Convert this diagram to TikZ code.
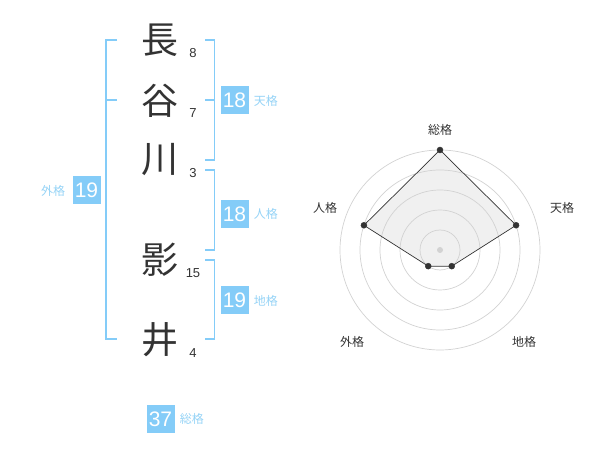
\documentclass[tikz,border=0pt]{standalone}
\usepackage{fontspec}
\setmainfont{Liberation Sans}
\newfontfamily\jpfont{Noto Sans CJK JP}
\usepackage{xcolor}
\usetikzlibrary{calc}
\definecolor{kakublue}{HTML}{84CCF8}
\definecolor{kakutext}{HTML}{95D3F6}
\definecolor{inkgray}{HTML}{333333}
\definecolor{ringgray}{HTML}{D2D2D2}
\definecolor{polyfill}{HTML}{F0F0F0}

\begin{document}
\begin{tikzpicture}[x=1pt, y=-1pt,
    kanji/.style={text=inkgray, font=\jpfont\fontsize{37}{37}\selectfont, inner sep=0pt},
    strokes/.style={text=inkgray, font=\fontsize{13}{13}\selectfont, inner sep=0pt},
    bracket/.style={line width=1.7pt, kakublue},
    kakubox/.style={fill=kakublue, text=white, minimum size=28pt, inner sep=0pt, font=\fontsize{21}{21}\selectfont},
    kakulabel/.style={text=kakutext, font=\jpfont\fontsize{12}{12}\selectfont, inner sep=0pt},
    ring/.style={draw=ringgray, line width=0.7pt},
    axislabel/.style={text=inkgray, font=\jpfont\fontsize{12}{12}\selectfont, inner sep=0pt}]
        \useasboundingbox (0,0) rectangle (600,470);

        % name characters
        \node[kanji] (k1) at (160,40) {長};
        \node[kanji] (k2) at (160,101) {谷};
        \node[kanji] (k3) at (160,160) {川};
        \node[kanji] (k4) at (160,260) {影};
        \node[kanji] (k5) at (160,340) {井};

        % stroke counts
        \node[strokes] (s1) at (193,53) {8};
        \node[strokes] (s2) at (193,113) {7};
        \node[strokes] (s3) at (193,173) {3};
        \node[strokes] (s4) at (193,273) {15};
        \node[strokes] (s5) at (193,353) {4};

        % coordinates
        \coordinate (g1) at (117,40);
        \coordinate (g2) at (106,40);
        \coordinate (g3) at (106,339);
        \coordinate (g4) at (117,339);
        \coordinate (gm) at (106,100);
        \coordinate (gn) at (117,100);
        \coordinate (t1) at (205,40);
        \coordinate (t2) at (214.5,40);
        \coordinate (t3) at (214.5,160);
        \coordinate (t4) at (205,160);
        \coordinate (tm) at (214.5,100);
        \coordinate (tn) at (205,100);
        \coordinate (j1) at (205,170);
        \coordinate (j2) at (214.5,170);
        \coordinate (j3) at (214.5,250);
        \coordinate (j4) at (205,250);
        \coordinate (c1) at (205,260);
        \coordinate (c2) at (214.5,260);
        \coordinate (c3) at (214.5,339);
        \coordinate (c4) at (205,339);

        % brackets
        \draw[bracket] (g1) -- (g2) -- (g3) -- (g4);
        \draw[bracket] (gm) -- (gn);
        \draw[bracket] (t1) -- (t2) -- (t3) -- (t4);
        \draw[bracket] (tm) -- (tn);
        \draw[bracket] (j1) -- (j2) -- (j3) -- (j4);
        \draw[bracket] (c1) -- (c2) -- (c3) -- (c4);

        % boxes
        \node[kakubox] (gai) at (86.5,190.5) {19};
        \node[kakubox] (ten) at (234.5,100.5) {18};
        \node[kakubox] (jin) at (234.5,214) {18};
        \node[kakubox] (chi) at (234.5,300.5) {19};
        \node[kakubox] (sou) at (160.5,419) {37};

        % Text
        \node[kakulabel, left=7pt] (gail) at (gai.west) {外格};
        \node[kakulabel, right=5pt] (tenl) at (ten.east) {天格};
        \node[kakulabel, right=5pt] (jinl) at (jin.east) {人格};
        \node[kakulabel, right=5pt] (chil) at (chi.east) {地格};
        \node[kakulabel, right=5pt] (soul) at (sou.east) {総格};

        % radar
        \begin{scope}[shift={(440,250)}, yscale=-1]
            \coordinate (o) at (0,0);
            \coordinate (rsou) at (90:100);
            \coordinate (rten) at (18:80);
            \coordinate (rchi) at (-54:20);
            \coordinate (rgai) at (-126:20);
            \coordinate (rjin) at (162:80);
            \fill[polyfill] (rsou) -- (rten) -- (rchi) -- (rgai) -- (rjin) -- cycle;
            \foreach \r in {20,40,...,100}
                \draw[ring] (o) circle (\r pt);
            \draw[inkgray, line width=0.7pt] (rsou) -- (rten) -- (rchi) -- (rgai) -- (rjin) -- cycle;
            \fill[ringgray] (o) circle (3pt);
            \foreach \p in {rsou,rten,rchi,rgai,rjin}
                \filldraw[inkgray] (\p) circle (3pt);
        \end{scope}

        % axis labels
        \node[axislabel] (asou) at (440,130) {総格};
        \node[axislabel] (aten) at (562,208) {天格};
        \node[axislabel] (ajin) at (325,208) {人格};
        \node[axislabel] (agai) at (352,342) {外格};
        \node[axislabel] (achi) at (524,342) {地格};

    \end{tikzpicture}
\end{document}
